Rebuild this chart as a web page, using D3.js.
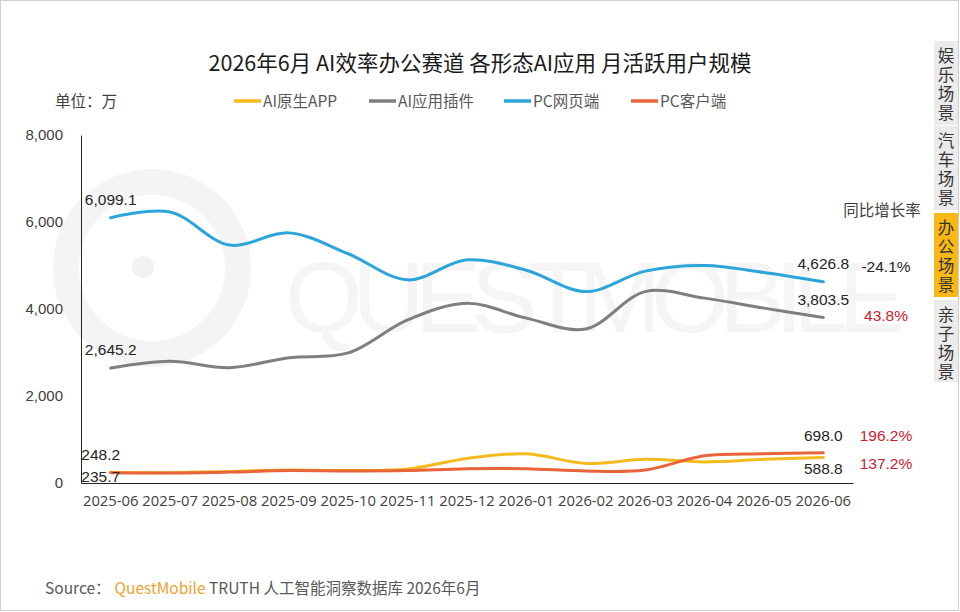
<!DOCTYPE html>
<html><head><meta charset="utf-8">
<script src="https://cdn.jsdelivr.net/npm/d3@7"></script>
<style>
html,body{margin:0;padding:0;background:#fff;}
svg{display:block;}
</style></head>
<body>
<svg id="c" width="960" height="612"></svg>
<script>
const months = ["2025-06","2025-07","2025-08","2025-09","2025-10","2025-11","2025-12","2026-01","2026-02","2026-03","2026-04","2026-05","2026-06"];
const seriesNames = ["AI原生APP","AI应用插件","PC网页端","PC客户端"];
const aiApp   = [248.2, 238, 265, 300, 285, 320, 565, 670, 450, 545, 485, 545, 588.8];
const aiPlugin= [2645.2, 2800, 2650, 2880, 2990, 3750, 4130, 3790, 3540, 4400, 4250, 4020, 3803.5];
const pcWeb   = [6099.1, 6230, 5470, 5750, 5270, 4670, 5130, 4890, 4400, 4870, 5000, 4840, 4626.8];
const pcClient= [235.7, 228, 250, 285, 275, 285, 330, 330, 275, 300, 625, 670, 698.0];
const yTicks = [0, 2000, 4000, 6000, 8000];
const growth = ["-24.1%", "43.8%", "196.2%", "137.2%"];
const tabs = ["娱乐场景","汽车场景","办公场景","亲子场景"];

const colors = ["#F5BA1E","#7F7F7F","#2DA5DA","#E8643A"];
const svg = d3.select("#c");
const CJK = "'Noto Sans CJK SC','Microsoft YaHei',sans-serif";
const NUM = "'Liberation Sans',Arial,sans-serif";

// border
svg.append("rect").attr("x",0.5).attr("y",0.5).attr("width",958).attr("height",610)
  .attr("fill","#fff").attr("stroke","#cfcfcf");

// watermark
const wm = svg.append("g");
wm.append("circle").attr("cx",152).attr("cy",268).attr("r",86).attr("fill","none")
  .attr("stroke","#f4f4f4").attr("stroke-width",26);
wm.append("circle").attr("cx",143).attr("cy",267).attr("r",11).attr("fill","#f2f2f2");
wm.append("text").attr("x",285).attr("y",332).attr("font-family",NUM).attr("font-size",100)
  .attr("fill","#f5f5f5").attr("textLength",620).text("QUESTMOBILE");

// title
svg.append("text").attr("x",480).attr("y",71).attr("text-anchor","middle")
  .attr("font-family",CJK).attr("font-size",21.5).attr("fill","#1a1a1a")
  .text("2026年6月 AI效率办公赛道 各形态AI应用 月活跃用户规模");

// unit
svg.append("text").attr("x",55).attr("y",107).attr("font-family",CJK).attr("font-size",15.5)
  .attr("fill","#404040").text("单位：万");

// legend
const legX = [234, 369, 504, 631];
seriesNames.forEach((n,i)=>{
  const g = svg.append("g").attr("transform",`translate(${legX[i]},101)`);
  g.append("line").attr("x1",0).attr("x2",27).attr("y1",0).attr("y2",0)
    .attr("stroke",colors[i]).attr("stroke-width",3.5);
  g.append("text").attr("x",29).attr("y",5.5).attr("font-family",CJK).attr("font-size",15.5)
    .attr("fill","#595959").text(n);
});

// scales
const x = d3.scaleBand().domain(months).range([81,853]);
const xc = d => x(d) + x.bandwidth()/2;
const y = d3.scaleLinear().domain([0,8000]).range([483,135]);

// axes
const ya = svg.append("g").attr("transform","translate(81,0)")
  .call(d3.axisLeft(y).tickValues(yTicks).tickFormat(d3.format(",")).tickSize(0).tickPadding(18).tickSizeOuter(0));
ya.select(".domain").attr("stroke","#222");
ya.selectAll("text").attr("font-family",NUM).attr("font-size",15).attr("fill","#404040");

const xa = svg.append("g").attr("transform","translate(0,483)")
  .call(d3.axisBottom(x).tickSize(0).tickPadding(12).tickSizeOuter(0));
xa.select(".domain").attr("stroke","#222");
xa.selectAll("text").attr("font-family","'Open Sans','Segoe UI',sans-serif").attr("font-size",14.8).attr("fill","#404040");

// lines
const allSeries = [pcWeb, aiPlugin, aiApp, pcClient];
const allColors = [colors[2], colors[1], colors[0], colors[3]];
const line = d3.line().x((d,i)=>xc(months[i])).y(d=>y(d)).curve(d3.curveCatmullRom.alpha(0.5));
allSeries.forEach((s,i)=>{
  svg.append("path").datum(s).attr("d",line).attr("fill","none")
    .attr("stroke",allColors[i]).attr("stroke-width",3).attr("stroke-linecap","round");
});

// data labels
const fmt = d3.format(",.1f");
const first = months[0], last = months[months.length-1];
const labels = [
  {m:first, v:pcWeb[0], dx:0, dy:-12.5},
  {m:first, v:aiPlugin[0], dx:0, dy:-13},
  {m:first, v:aiApp[0], dx:-10, dy:-12.5},
  {m:first, v:pcClient[0], dx:-10, dy:9.5},
  {m:last, v:pcWeb[12], dx:0, dy:-12.5},
  {m:last, v:aiPlugin[12], dx:0, dy:-12.5},
  {m:last, v:pcClient[12], dx:0, dy:-12},
  {m:last, v:aiApp[12], dx:0, dy:16.5},
];
labels.forEach(l=>{
  svg.append("text").attr("x",xc(l.m)+l.dx).attr("y",y(l.v)+l.dy).attr("text-anchor","middle")
    .attr("font-family",NUM).attr("font-size",15.5).attr("fill","#262626").text(fmt(l.v));
});

// growth labels
svg.append("text").attr("x",882).attr("y",216).attr("text-anchor","middle")
  .attr("font-family",CJK).attr("font-size",15.5).attr("fill","#404040").text("同比增长率");
const gVals = [pcWeb[12], aiPlugin[12], pcClient[12], aiApp[12]];
const gDy = [-10, 3, -12, 12];
growth.forEach((g,i)=>{
  svg.append("text").attr("x",886).attr("y",y(gVals[i])+gDy[i]).attr("text-anchor","middle")
    .attr("font-family",NUM).attr("font-size",15.5)
    .attr("fill", i===0 ? "#262626" : "#D0202E").text(g);
});

// side tabs
const tabY = [41, 126, 213, 300];
tabs.forEach((t,i)=>{
  svg.append("rect").attr("x",934).attr("y",tabY[i]).attr("width",24).attr("height",i===3?82:84)
    .attr("fill", i===2 ? "#F9B815" : "#EBEBEB");
  t.split("").forEach((ch,j)=>{
    svg.append("text").attr("x",946).attr("y",tabY[i]+21+j*19).attr("text-anchor","middle")
      .attr("font-family",CJK).attr("font-size",16.5).attr("fill","#333").text(ch);
  });
});

// source
const src = svg.append("text").attr("x",45).attr("y",594).attr("font-family",CJK).attr("font-size",15.5).attr("fill","#595959");
src.append("tspan").text("Source：");
src.append("tspan").attr("fill","#F0A22E").attr("dx",4).text("QuestMobile");
src.append("tspan").text(" TRUTH 人工智能洞察数据库 2026年6月");
</script>
</body></html>
